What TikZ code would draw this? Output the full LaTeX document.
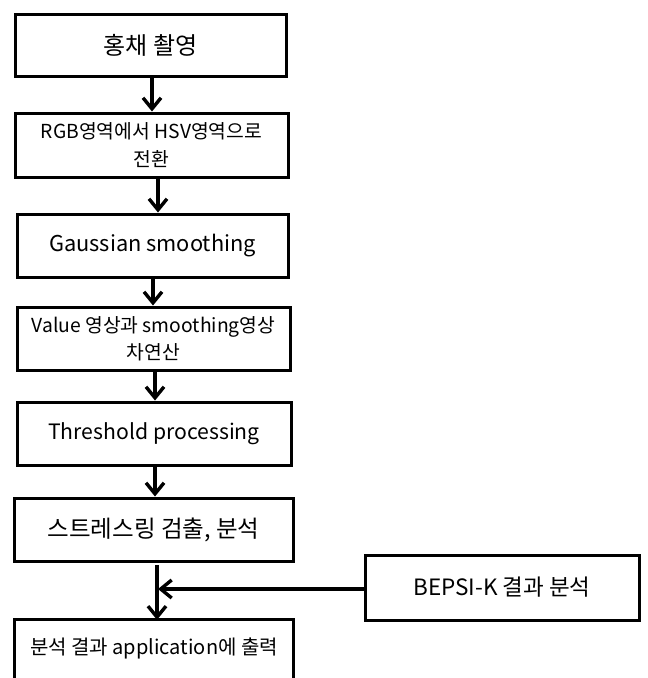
\documentclass[tikz,border=0pt]{standalone}
\usepackage{fontspec}
\setmainfont{Noto Sans CJK KR}
\usetikzlibrary{arrows.meta}
\begin{document}
\begin{tikzpicture}[x=1pt,y=-1pt,
  box/.style={draw,line width=3pt,inner sep=0pt,align=center},
  arr/.style={line width=3.4pt,-{Straight Barb[length=11pt,width=18pt]}}]
\useasboundingbox (0,0) rectangle (648,678);
\clip (0,0) rectangle (648,678);
\node[box,minimum width=271pt,minimum height=62pt,font=\fontsize{24}{28}\selectfont] (b1) at (150.5,45) {홍채 촬영};
\node[box,minimum width=273pt,minimum height=64pt,font=\fontsize{19.3}{28}\selectfont] (b2) at (151.5,145) {RGB영역에서 HSV영역으로\\전환};
\node[box,minimum width=271pt,minimum height=63pt,font=\fontsize{21.8}{28}\selectfont] (b3) at (152.5,245.5) {Gaussian smoothing};
\node[box,minimum width=273pt,minimum height=63pt,font=\fontsize{19.3}{27}\selectfont] (b4) at (153.5,338.5) {Value 영상과 smoothing영상\\차연산};
\node[box,minimum width=274pt,minimum height=63pt,font=\fontsize{21.2}{28}\selectfont] (b5) at (154,433.5) {Threshold processing};
\node[box,minimum width=279pt,minimum height=63pt,font=\fontsize{23.5}{28}\selectfont] (b6) at (153.5,529.5) {스트레스링 검출, 분석};
\node[box,minimum width=274pt,minimum height=65pt,font=\fontsize{22.5}{28}\selectfont] (bk) at (502,587.5) {BEPSI-K 결과 분석};
\node[inner sep=0pt,minimum width=278pt,minimum height=56pt,font=\fontsize{20}{28}\selectfont] (b7) at (154,648) {분석 결과 application에 출력};
\draw[line width=3pt] ([yshift=-40pt]b7.south west) -- (b7.north west) -- (b7.north east) -- ([yshift=-40pt]b7.south east);
\coordinate (xa) at (152,0);
\coordinate (xb) at (158,0);
\coordinate (xc) at (153,0);
\coordinate (xd) at (155,0);
\coordinate (xe) at (157,0);
\coordinate (top7) at (157,565);
\coordinate (join) at (158,589);
\coordinate (kin) at (365,589);
\draw[arr] (b1.south -| xa) -- (b2.north -| xa);
\draw[arr] (b2.south -| xb) -- (b3.north -| xb);
\draw[arr] (b3.south -| xc) -- (b4.north -| xc);
\draw[arr] (b4.south -| xd) -- (b5.north -| xd);
\draw[arr] (b5.south -| xd) -- (b6.north -| xd);
\draw[arr] (top7) -- (b7.north -| xe);
\draw[arr] (kin) -- (join);
\end{tikzpicture}
\end{document}
